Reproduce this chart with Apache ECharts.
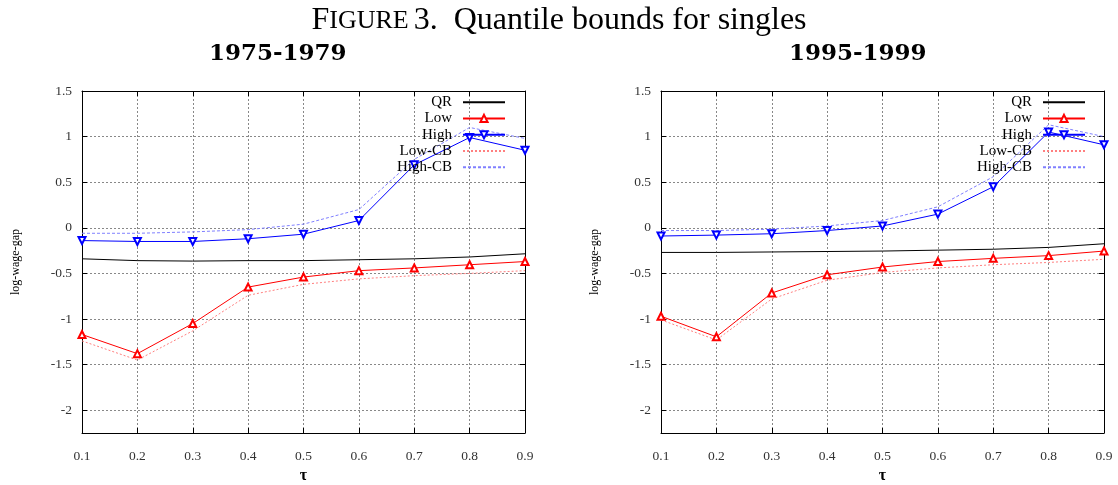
<!DOCTYPE html>
<html>
<head>
<meta charset="utf-8">
<script src="https://cdn.jsdelivr.net/npm/echarts@6/dist/echarts.min.js"></script>
<style>
  html, body { margin: 0; padding: 0; background: #fff; }
  #chart { width: 1118px; height: 485px; }
</style>
</head>
<body>
<div id="chart"></div>
<script>
// quantiles
const tau = [0.1, 0.2, 0.3, 0.4, 0.5, 0.6, 0.7, 0.8, 0.9];
const yTicks = [-2, -1.5, -1, -0.5, 0, 0.5, 1, 1.5];

// 1975-1979
const qr75 = [-0.34, -0.36, -0.365, -0.36, -0.36, -0.35, -0.34, -0.32, -0.285];
const low75 = [-1.17, -1.38, -1.05, -0.65, -0.54, -0.47, -0.44, -0.405, -0.37];
const high75 = [-0.14, -0.15, -0.15, -0.12, -0.07, 0.08, 0.69, 0.99, 0.85];
const lowCB75 = [-1.24, -1.45, -1.13, -0.74, -0.62, -0.56, -0.525, -0.5, -0.47];
const highCB75 = [-0.06, -0.06, -0.045, -0.02, 0.04, 0.2, 0.75, 1.1, 0.98];

// 1995-1999
const qr95 = [-0.27, -0.27, -0.265, -0.26, -0.255, -0.245, -0.235, -0.215, -0.175];
const low95 = [-0.97, -1.195, -0.715, -0.515, -0.43, -0.37, -0.335, -0.305, -0.255];
const high95 = [-0.09, -0.08, -0.065, -0.03, 0.02, 0.15, 0.45, 1.05, 0.91];
const lowCB95 = [-1.01, -1.23, -0.78, -0.575, -0.49, -0.44, -0.405, -0.38, -0.345];
const highCB95 = [-0.03, -0.03, -0.015, 0.02, 0.08, 0.23, 0.56, 1.13, 1.0];

const serif = '"Liberation Serif", "DejaVu Serif", serif';
const chart = echarts.init(document.getElementById('chart'));

const pair = (ys) => tau.map((t, i) => [t, ys[i]]);
const frame = { show: true, onZero: false, lineStyle: { color: '#000' } };
const ticks = { inside: true, length: 5, lineStyle: { color: '#000' } };

function axesFor(gi) {
  const xs = [
    {
      gridIndex: gi, type: 'value', min: 0.1, max: 0.9, interval: 0.1,
      name: 'τ', nameLocation: 'middle', nameGap: 32,
      nameTextStyle: { fontFamily: serif, fontSize: 16, color: '#000', fontWeight: 'bold' },
      axisLine: frame, axisTick: ticks,
      axisLabel: { fontFamily: serif, fontSize: 13.5, color: '#333', margin: 16,
        formatter: (v) => v.toFixed(1) },
      splitLine: { show: true, lineStyle: { color: '#888', type: [2, 2] } }
    },
    {
      gridIndex: gi, type: 'value', min: 0.1, max: 0.9, interval: 0.1, position: 'top',
      axisLine: frame, axisTick: ticks,
      axisLabel: { show: false }, splitLine: { show: false }
    }
  ];
  const ys = [
    {
      gridIndex: gi, type: 'value', min: -2.25, max: 1.5,
      name: 'log-wage-gap', nameLocation: 'middle', nameGap: 60,
      nameTextStyle: { fontFamily: serif, fontSize: 12, color: '#000' },
      axisLine: frame,
      axisTick: Object.assign({ customValues: yTicks }, ticks),
      axisLabel: { fontFamily: serif, fontSize: 13.5, color: '#333', margin: 10, customValues: yTicks },
      splitLine: { show: true, lineStyle: { color: '#888', type: [2, 2] } }
    },
    {
      gridIndex: gi, type: 'value', min: -2.25, max: 1.5, position: 'right',
      axisLine: frame,
      axisTick: Object.assign({ customValues: yTicks }, ticks),
      axisLabel: { show: false }, splitLine: { show: false }
    }
  ];
  return { xs, ys };
}

function seriesFor(gi, qr, low, high, lowCB, highCB) {
  const base = { type: 'line', xAxisIndex: gi * 2, yAxisIndex: gi * 2, animation: false };
  return [
    Object.assign({}, base, { name: 'QR', data: pair(qr), showSymbol: false, symbol: 'none',
      lineStyle: { color: '#000', width: 1 }, itemStyle: { color: '#000' } }),
    Object.assign({}, base, { name: 'Low', data: pair(low), symbol: 'emptyTriangle', symbolSize: 7,
      lineStyle: { color: '#ff0000', width: 1 }, itemStyle: { color: '#ff0000', borderWidth: 1 } }),
    Object.assign({}, base, { name: 'High', data: pair(high), symbol: 'emptyTriangle', symbolSize: 7,
      symbolRotate: 180,
      lineStyle: { color: '#0000ff', width: 1 }, itemStyle: { color: '#0000ff', borderWidth: 1 } }),
    Object.assign({}, base, { name: 'Low-CB', data: pair(lowCB), symbol: 'none',
      lineStyle: { color: '#ff8080', width: 1, type: [2, 2] }, itemStyle: { color: '#ff8080' } }),
    Object.assign({}, base, { name: 'High-CB', data: pair(highCB), symbol: 'none',
      lineStyle: { color: '#8080ff', width: 1, type: [3, 2] }, itemStyle: { color: '#8080ff' } })
  ];
}

const a0 = axesFor(0);
const a1 = axesFor(1);
const names = ['QR', 'Low', 'High', 'Low-CB', 'High-CB'];
const noMarker = ['QR', 'Low-CB', 'High-CB'];

function legendAt(right) {
  return {
    data: names.map((n) => noMarker.includes(n)
      ? { name: n, itemStyle: { opacity: 0 } }
      : { name: n }),
    orient: 'vertical', right: right, top: 94, align: 'right',
    padding: 0, itemGap: 0, itemWidth: 42, itemHeight: 9,
    selectedMode: false,
    textStyle: { fontFamily: serif, fontSize: 15, color: '#000', lineHeight: 16.3, padding: [0, 6, 0, 0] }
  };
}

chart.setOption({
  backgroundColor: '#fff',
  animation: false,
  title: [
    {
      text: '{a|F}{b|IGURE} {a|3.  Quantile bounds for singles}',
      left: 'center', top: 0,
      textStyle: { rich: {
        a: { fontFamily: serif, fontSize: 32, fontWeight: 'normal', color: '#000' },
        b: { fontFamily: serif, fontSize: 26, fontWeight: 'normal', color: '#000' }
      } }
    },
    { text: '1975-1979', left: 204, top: 38,
      textStyle: { fontFamily: '"DejaVu Serif", serif', fontSize: 23, fontWeight: 'bold', color: '#000' } },
    { text: '1995-1999', left: 784, top: 38,
      textStyle: { fontFamily: '"DejaVu Serif", serif', fontSize: 23, fontWeight: 'bold', color: '#000' } }
  ],
  grid: [
    { left: 82, right: 593, top: 91, bottom: 52, show: false, outerBoundsMode: 'none' },
    { left: 661, right: 14, top: 91, bottom: 52, show: false, outerBoundsMode: 'none' }
  ],
  xAxis: a0.xs.concat(a1.xs),
  yAxis: a0.ys.concat(a1.ys),
  legend: [legendAt(612), legendAt(32)],
  series: seriesFor(0, qr75, low75, high75, lowCB75, highCB75)
    .concat(seriesFor(1, qr95, low95, high95, lowCB95, highCB95))
});
</script>
</body>
</html>
